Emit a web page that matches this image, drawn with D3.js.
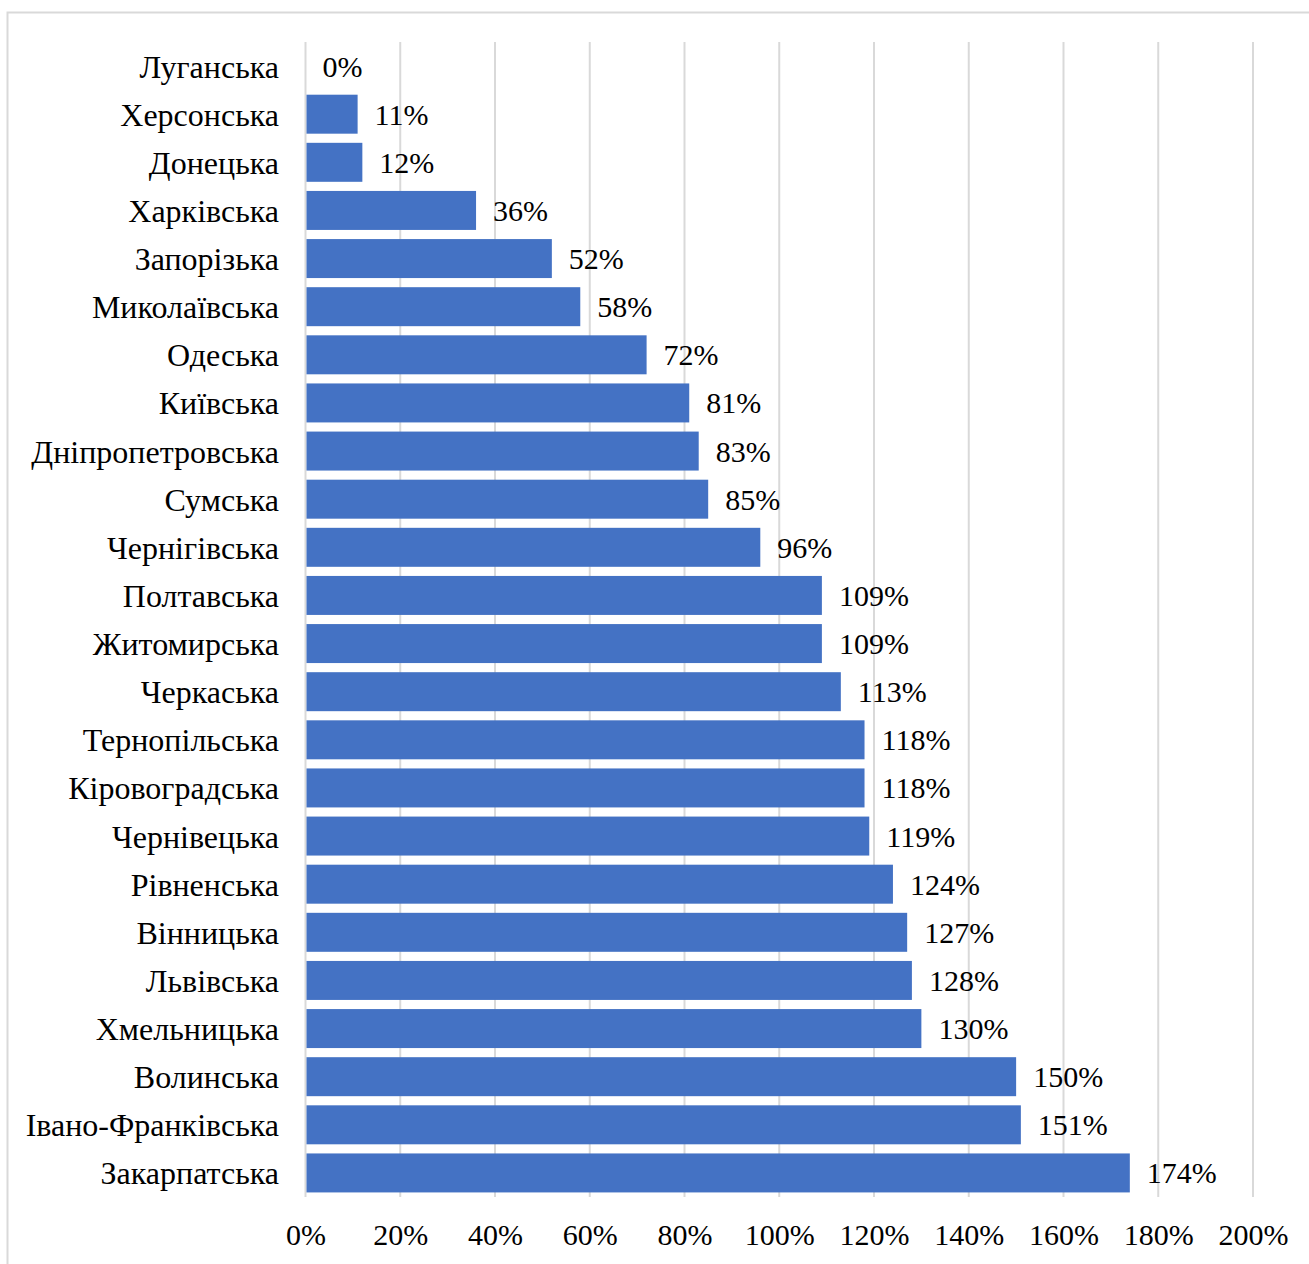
<!DOCTYPE html>
<html>
<head>
<meta charset="utf-8">
<script src="https://cdn.jsdelivr.net/npm/d3@7"></script>
<style>
  body { margin: 0; background: #fff; }
</style>
</head>
<body>
<svg id="chart" width="1309" height="1264"></svg>
<script>
// regions, top to bottom
const regions = ["Луганська", "Херсонська", "Донецька", "Харківська", "Запорізька",
  "Миколаївська", "Одеська", "Київська", "Дніпропетровська", "Сумська", "Чернігівська",
  "Полтавська", "Житомирська", "Черкаська", "Тернопільська", "Кіровоградська",
  "Чернівецька", "Рівненська", "Вінницька", "Львівська", "Хмельницька", "Волинська",
  "Івано-Франківська", "Закарпатська"];
const values = [0, 11, 12, 36, 52, 58, 72, 81, 83, 85, 96, 109, 109, 113, 118, 118,
  119, 124, 127, 128, 130, 150, 151, 174];
const ticks = [0, 20, 40, 60, 80, 100, 120, 140, 160, 180, 200];

const FONT = "Liberation Serif";

const svg = d3.select("#chart");

// chart frame
svg.append("rect")
  .attr("x", 7.5).attr("y", 12.5)
  .attr("width", 1320).attr("height", 1280)
  .attr("fill", "none").attr("stroke", "#d9d9d9").attr("stroke-width", 2);

const x = d3.scaleLinear().domain([0, 200]).range([305.5, 1253]);
const y = d3.scaleBand().domain(regions).range([42, 1197]).paddingInner(0.19).paddingOuter(0.095);

// gridlines
svg.append("g").selectAll("line")
  .data(ticks)
  .join("line")
    .attr("x1", d => x(d)).attr("x2", d => x(d))
    .attr("y1", 42).attr("y2", 1197)
    .attr("stroke", "#d9d9d9").attr("stroke-width", 2);

// bars
svg.append("g").selectAll("rect")
  .data(values)
  .join("rect")
    .attr("x", x(0) + 1)
    .attr("y", (d, i) => y(regions[i]))
    .attr("width", d => Math.max(0, x(d) - x(0) - 1))
    .attr("height", y.bandwidth())
    .attr("fill", "#4472c4");

// value labels
svg.append("g").selectAll("text")
  .data(values)
  .join("text")
    .attr("x", d => x(d) + 17)
    .attr("y", (d, i) => y(regions[i]) + y.bandwidth() / 2)
    .attr("dy", "0.35em")
    .style("font-family", FONT)
    .style("font-size", "30px")
    .style("fill", "#000")
    .text(d => d + "%");

// category axis
const yAxis = svg.append("g")
  .attr("transform", "translate(279,0)")
  .call(d3.axisLeft(y).tickSize(0).tickPadding(0));
yAxis.select(".domain").remove();
yAxis.attr("font-family", FONT);
yAxis.selectAll("text")
  .style("font-family", FONT).style("font-size", "32px").style("fill", "#000")
  .attr("dy", "0.36em");

// value axis
const xAxis = svg.append("g")
  .attr("transform", "translate(0,1197)")
  .call(d3.axisBottom(x).tickValues(ticks).tickFormat(d => d + "%").tickSize(0).tickPadding(27));
xAxis.select(".domain").remove();
xAxis.attr("font-family", FONT);
xAxis.selectAll("text")
  .style("font-family", FONT).style("font-size", "30px").style("fill", "#000");
</script>
</body>
</html>
